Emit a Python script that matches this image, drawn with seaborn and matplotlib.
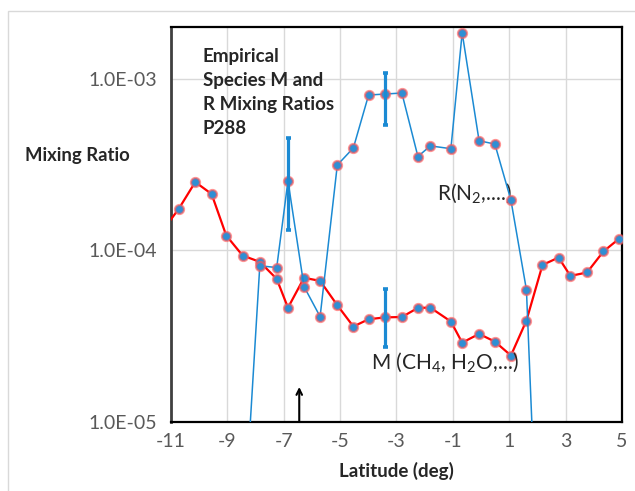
import numpy as np
import pandas as pd
import seaborn as sns
import matplotlib.pyplot as plt
from matplotlib.patches import Rectangle
from matplotlib.ticker import FixedLocator, FuncFormatter, LogLocator, NullFormatter

# M species (red line)
m_lat = [-11.30, -10.72, -10.14, -9.56, -9.04, -8.46, -7.85, -7.25, -6.85, -6.28,
         -5.71, -5.10, -4.53, -3.99, -3.40, -2.81, -2.24, -1.80, -1.07, -0.67,
         -0.07, 0.49, 1.06, 1.61, 2.18, 2.75, 3.17, 3.76, 4.34, 4.90, 5.47]
m_val = [1.30e-4, 1.75e-4, 2.50e-4, 2.13e-4, 1.22e-4, 9.33e-5, 8.57e-5, 6.82e-5, 4.63e-5, 6.92e-5,
         6.64e-5, 4.79e-5, 3.60e-5, 3.97e-5, 4.07e-5, 4.09e-5, 4.62e-5, 4.64e-5, 3.85e-5, 2.90e-5,
         3.26e-5, 2.94e-5, 2.44e-5, 3.90e-5, 8.22e-5, 9.08e-5, 7.10e-5, 7.43e-5, 9.85e-5, 1.17e-4, 1.40e-4]

# R species (blue line)
r_lat = [-8.46, -7.85, -7.25, -6.85, -6.28, -5.71, -5.10, -4.53, -3.99, -3.40,
         -2.81, -2.24, -1.80, -1.07, -0.67, -0.07, 0.49, 1.06, 1.61, 2.18]
r_val = [1.8e-6, 8.13e-5, 7.94e-5, 2.54e-4, 6.15e-5, 4.11e-5, 3.14e-4, 3.95e-4, 8.03e-4, 8.14e-4,
         8.25e-4, 3.52e-4, 4.06e-4, 3.91e-4, 1.85e-3, 4.35e-4, 4.16e-4, 1.96e-4, 5.89e-5, 3e-7]

# error bars: (lat, value, low, high)
err_lat = [-6.85, -3.40, -3.40]
err_val = [2.54e-4, 8.14e-4, 4.07e-5]
err_lo = [1.32e-4, 5.37e-4, 2.75e-5]
err_hi = [4.50e-4, 1.08e-3, 5.94e-5]

x_ticks = [-11, -9, -7, -5, -3, -1, 1, 3, 5]
y_ticks = [1e-5, 1e-4, 1e-3]

sns.set_style("white")
plt.rcParams['font.family'] = ['Lato', 'DejaVu Sans']
plt.rcParams['axes.unicode_minus'] = False
plt.rcParams['mathtext.fontset'] = 'custom'
plt.rcParams['mathtext.rm'] = 'Lato'

blue = '#1b8ad3'
mk = dict(marker='o', markersize=6.5, markerfacecolor='#2e8fd4',
          markeredgecolor=(1.0, 0.35, 0.35, 0.65), markeredgewidth=1.6)

fig = plt.figure(figsize=(6.35, 4.91), dpi=100)
ax = fig.add_axes([0.2693, 0.1405, 0.7102, 0.8045])
ax.set_yscale('log')

df_m = pd.DataFrame({'lat': m_lat, 'val': m_val})
df_r = pd.DataFrame({'lat': r_lat, 'val': r_val})
sns.lineplot(data=df_m, x='lat', y='val', sort=False, estimator=None,
             color='#ff0000', linewidth=1.6, ax=ax, zorder=3, **mk)
sns.lineplot(data=df_r, x='lat', y='val', sort=False, estimator=None,
             color=blue, linewidth=1.1, ax=ax, zorder=4, **mk)

lo = np.array(err_val) - np.array(err_lo)
hi = np.array(err_hi) - np.array(err_val)
ax.errorbar(err_lat, err_val, yerr=[lo, hi], fmt='none', ecolor=blue,
            elinewidth=2.3, capsize=1.8, capthick=2.6, zorder=5)

ax.set_xlim(-11, 5)
ax.set_ylim(1e-5, 2.0e-3)
ax.set_xticks(x_ticks)
ax.set_xticklabels([str(t) for t in x_ticks])
ax.yaxis.set_major_locator(FixedLocator(y_ticks))
ax.yaxis.set_major_formatter(FuncFormatter(lambda v, p: '1.0E-%02d' % round(-np.log10(v))))
ax.yaxis.set_minor_locator(LogLocator(base=10, subs=np.arange(2, 10)))
ax.yaxis.set_minor_formatter(NullFormatter())

ax.grid(True, which='major', color='#d9d9d9', linewidth=1.0)
ax.set_axisbelow(True)
ax.tick_params(axis='x', length=0, pad=8, labelsize=14, labelcolor='#595959')
ax.tick_params(axis='y', which='major', direction='in', length=6, width=1,
               color='#404040', pad=10, labelsize=14, labelcolor='#595959')
ax.tick_params(axis='y', which='minor', direction='in', length=5, width=1, color='#404040')
ax.set_xlabel('')
ax.set_ylabel('')

for side in ['top', 'right', 'bottom']:
    ax.spines[side].set_color('black')
    ax.spines[side].set_linewidth(1.6)
ax.spines['left'].set_color('#404040')
ax.spines['left'].set_linewidth(2.0)

# arrow from the bottom axis
ax.annotate('', xy=(-6.45, 1.6e-5), xytext=(-6.45, 1e-5),
            arrowprops=dict(arrowstyle='->', color='black', lw=1.5, shrinkA=0, shrinkB=0))

ax.text(-1.57, 2.13e-4, 'R(N$_\\mathregular{2}$,....)', fontsize=15, ha='left', va='center')
ax.text(-3.91, 2.21e-5, 'M (CH$_\\mathregular{4}$, H$_\\mathregular{2}$O,...)', fontsize=15,
        ha='left', va='center')

fig.text(0.319, 0.903, 'Empirical\nSpecies M and\nR Mixing Ratios\nP288',
         fontsize=13.5, fontweight='bold', ha='left', va='top', linespacing=1.5)
fig.text(0.039, 0.684, 'Mixing Ratio', fontsize=13.3, fontweight='bold', ha='left', va='center')
fig.text(0.625, 0.041, 'Latitude (deg)', fontsize=13.5, fontweight='bold', ha='center', va='center')

fig.add_artist(Rectangle((8 / 635, -0.1), 2, 0.9776 + 0.1, transform=fig.transFigure,
                         fill=False, edgecolor='#d9d9d9', linewidth=1.0))

plt.savefig('out.png', dpi=100)
plt.close()
